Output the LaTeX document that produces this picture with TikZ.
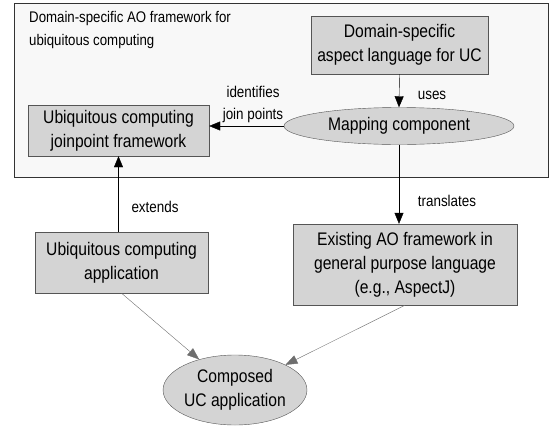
\documentclass[tikz,border=0pt]{standalone}
\usepackage{fontspec}
\setmainfont[FakeStretch=0.86]{Liberation Sans}
\usetikzlibrary{arrows.meta, positioning, shapes.geometric}

\definecolor{framebg}{HTML}{F8F8F8}
\definecolor{boxfill}{HTML}{D4D4D4}
\definecolor{boxline}{HTML}{555555}
\definecolor{softline}{HTML}{6E6E6E}

\tikzset{
  graybox/.style={draw=boxline, fill=boxfill, align=center, inner sep=0pt,
    font=\fontsize{18.2}{24}\selectfont},
  grayoval/.style={ellipse, draw=boxline, fill=boxfill, align=center, inner sep=0pt,
    font=\fontsize{18.2}{24}\selectfont},
  edgelabel/.style={align=center, inner sep=0pt, font=\fontsize{15.6}{22}\selectfont},
  solidarrow/.style={draw=black, -{Triangle[length=11pt,width=9pt]}},
  softarrow/.style={draw=softline, -{Triangle[length=12pt,width=9pt]}}
}

\begin{document}
\begin{tikzpicture}[x=1pt, y=-1pt]
    \useasboundingbox (0,0) rectangle (549,426);

    % Framework frame
    \draw[black!80, fill=framebg, line width=1pt] (14,3) rectangle (548,177);
    \node[anchor=north west, align=left, inner sep=0pt,
          font=\fontsize{15.4}{23}\selectfont] (title) at (29,11)
          {Domain-specific AO framework for\\ubiquitous computing};

    % Aspect language
    \node[graybox, minimum width=177pt, minimum height=58pt] (dsl) at (399.5,45)
          {Domain-specific\\aspect language for UC};

    % Mapping component
    \node[grayoval, minimum width=230pt, minimum height=37pt] (map) at (399,126)
          {Mapping component};

    % Joinpoint framework
    \node[graybox, minimum width=181pt, minimum height=51pt] (jpf) at (118.5,130.5)
          {Ubiquitous computing\\joinpoint framework};

    % Application
    \node[graybox, minimum width=173pt, minimum height=61pt] (app) at (121.5,262.5)
          {Ubiquitous computing\\application};

    % Existing AO framework
    \node[graybox, minimum width=224pt, minimum height=81pt] (aoj) at (405,264.5)
          {Existing AO framework in\\general purpose language\\(e.g., AspectJ)};

    % Composed application
    \node[grayoval, minimum width=134pt, minimum height=70pt] (comp) at (235,390)
          {Composed\\UC application};

    % Arrows
    \draw[solidarrow] (dsl.south) -- (map.north);
    \draw[solidarrow] (map.west) -- (map.west -| jpf.east);
    \draw[solidarrow] (jpf.south |- app.north) -- (jpf.south);
    \draw[solidarrow] (map.south) -- (map.south |- aoj.north);
    \draw[softarrow] (app.south) -- (comp);
    \draw[softarrow] (aoj.south) -- (comp);

    % Labels
    \node[edgelabel] (uses) at (432,95) {uses};
    \node[edgelabel] (ident) at (253,104) {identifies\\join points};
    \node[edgelabel] (ext) at (155,207) {extends};
    \node[edgelabel] (trans) at (447,201) {translates};
\end{tikzpicture}
\end{document}
